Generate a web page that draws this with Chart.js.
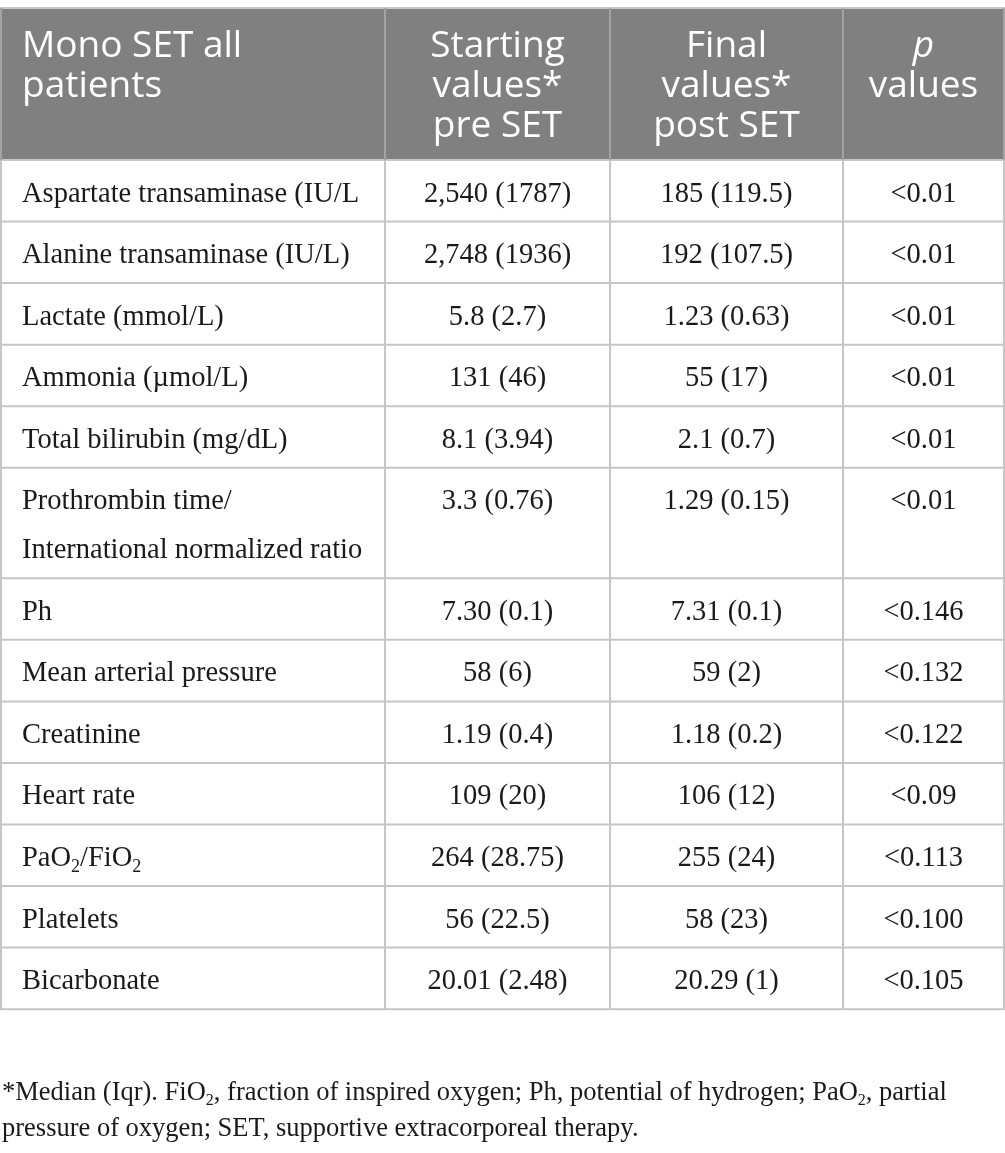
<!DOCTYPE html>
<html>
<head>
<meta charset="utf-8">
<script src="https://cdn.jsdelivr.net/npm/chart.js@4.4.0/dist/chart.umd.min.js"></script>
<style>
    html, body { margin: 0; padding: 0; background: #ffffff; }
    #wrap { width: 1005px; height: 1153px; position: relative; }
</style>
</head>
<body>
<div id="wrap"><canvas id="set-table-chart"></canvas></div>
<script>
// table content ("_x" marks a subscript character)
const headers = [
    ['Mono SET all', 'patients'],
    ['Starting', 'values*', 'pre SET'],
    ['Final', 'values*', 'post SET'],
    ['p', 'values']
];
const italicHeaderLines = ['p'];

const parameters = [
    'Aspartate transaminase (IU/L',
    'Alanine transaminase (IU/L)',
    'Lactate (mmol/L)',
    'Ammonia (\u00b5mol/L)',
    'Total bilirubin (mg/dL)',
    'Prothrombin time/\nInternational normalized ratio',
    'Ph',
    'Mean arterial pressure',
    'Creatinine',
    'Heart rate',
    'PaO_2/FiO_2',
    'Platelets',
    'Bicarbonate'
];
const startingValues = ['2,540 (1787)', '2,748 (1936)', '5.8 (2.7)', '131 (46)', '8.1 (3.94)', '3.3 (0.76)',
    '7.30 (0.1)', '58 (6)', '1.19 (0.4)', '109 (20)', '264 (28.75)', '56 (22.5)', '20.01 (2.48)'];
const finalValues = ['185 (119.5)', '192 (107.5)', '1.23 (0.63)', '55 (17)', '2.1 (0.7)', '1.29 (0.15)',
    '7.31 (0.1)', '59 (2)', '1.18 (0.2)', '106 (12)', '255 (24)', '58 (23)', '20.29 (1)'];
const pValues = ['<0.01', '<0.01', '<0.01', '<0.01', '<0.01', '<0.01',
    '<0.146', '<0.132', '<0.122', '<0.09', '<0.113', '<0.100', '<0.105'];

const footnote = [
    '*Median (Iqr). FiO_2, fraction of inspired oxygen; Ph, potential of hydrogen; PaO_2, partial',
    'pressure of oxygen; SET, supportive extracorporeal therapy.'
];

// geometry, in scale units (the scales span the page)
const colEdges = [0, 385, 610, 843, 1004];
const tableTop = 8;
const headerHeight = 152;
const rowHeight = 61.55;
const lineGap = 49;
const cellPadX = 22;

const headerBg = '#808080';
const gridColor = '#c6c6c6';
const headerGrid = '#a3a3a3';
const headerFontSize = 37;
const bodyFontSize = 28.5;
const noteFontSize = 26.5;

function splitRich(text) {
    const out = [];
    let buf = '';
    for (let i = 0; i < text.length; i++) {
        if (text[i] === '_' && i + 1 < text.length) {
            if (buf) out.push({ t: buf, sub: false });
            out.push({ t: text[i + 1], sub: true });
            buf = '';
            i++;
        } else {
            buf += text[i];
        }
    }
    if (buf) out.push({ t: buf, sub: false });
    return out;
}

function drawRich(ctx, text, px, py, align, family, size, style) {
    const segs = splitRich(text);
    const main = (style ? style + ' ' : '') + size + 'px ' + family;
    const small = (style ? style + ' ' : '') + Math.round(size * 0.62) + 'px ' + family;
    let total = 0;
    segs.forEach(s => {
        ctx.font = s.sub ? small : main;
        s.w = ctx.measureText(s.t).width;
        total += s.w;
    });
    let cx = align === 'center' ? px - total / 2 : px;
    ctx.textAlign = 'left';
    ctx.textBaseline = 'alphabetic';
    segs.forEach(s => {
        ctx.font = s.sub ? small : main;
        ctx.fillText(s.t, cx, s.sub ? py + size * 0.2 : py);
        cx += s.w;
    });
}

const tablePlugin = {
    id: 'tablePlugin',
    afterDraw(chart) {
        const { ctx, scales: { x, y } } = chart;
        const X = v => x.getPixelForValue(v);
        const Y = v => y.getPixelForValue(v);

        // row boundaries from line counts
        const rowTops = [tableTop + headerHeight];
        parameters.forEach(p => {
            const lines = p.split('\n').length;
            rowTops.push(rowTops[rowTops.length - 1] + rowHeight + (lines - 1) * lineGap);
        });
        const tableBottom = rowTops[rowTops.length - 1];

        ctx.save();
        // header band
        ctx.fillStyle = headerBg;
        ctx.fillRect(X(colEdges[0]), Y(tableTop), X(colEdges[4] + 1) - X(colEdges[0]), Y(tableTop + headerHeight) - Y(tableTop));

        // grid
        ctx.lineWidth = 2;
        ctx.strokeStyle = gridColor;
        ctx.beginPath();
        ctx.moveTo(X(0), Y(tableTop));
        ctx.lineTo(X(colEdges[4] + 1), Y(tableTop));
        rowTops.forEach(t => {
            ctx.moveTo(X(0), Y(t));
            ctx.lineTo(X(colEdges[4] + 1), Y(t));
        });
        colEdges.forEach(c => {
            const cx = c === 0 ? 1 : c;
            ctx.moveTo(X(cx), Y(tableTop + headerHeight));
            ctx.lineTo(X(cx), Y(tableBottom));
        });
        ctx.stroke();

        ctx.strokeStyle = headerGrid;
        ctx.beginPath();
        colEdges.forEach(c => {
            const cx = c === 0 ? 1 : c;
            ctx.moveTo(X(cx), Y(tableTop));
            ctx.lineTo(X(cx), Y(tableTop + headerHeight));
        });
        ctx.stroke();

        // header text
        ctx.fillStyle = '#ffffff';
        headers.forEach((lines, ci) => {
            lines.forEach((line, li) => {
                const by = Y(tableTop + 49 + li * 40);
                const style = italicHeaderLines.includes(line) ? 'italic' : '';
                if (ci === 0) {
                    drawRich(ctx, line, X(colEdges[0] + cellPadX), by, 'left', '"Open Sans"', headerFontSize, style);
                } else {
                    drawRich(ctx, line, X((colEdges[ci] + colEdges[ci + 1]) / 2), by, 'center', '"Open Sans"', headerFontSize, style);
                }
            });
        });

        // body text
        ctx.fillStyle = '#1a1a1a';
        const columns = [startingValues, finalValues, pValues];
        parameters.forEach((p, ri) => {
            const base = rowTops[ri] + 41.5;
            p.split('\n').forEach((line, li) => {
                drawRich(ctx, line, X(colEdges[0] + cellPadX), Y(base + li * lineGap), 'left', '"Liberation Serif"', bodyFontSize);
            });
            columns.forEach((col, ci) => {
                const mid = (colEdges[ci + 1] + colEdges[ci + 2]) / 2;
                drawRich(ctx, col[ri], X(mid), Y(base), 'center', '"Liberation Serif"', bodyFontSize);
            });
        });

        // footnote
        footnote.forEach((line, li) => {
            drawRich(ctx, line, X(2), Y(tableBottom + 91 + li * 36), 'left', '"Liberation Serif"', noteFontSize);
        });
        ctx.restore();
    }
};

new Chart(document.getElementById('set-table-chart'), {
    type: 'scatter',
    data: { datasets: [] },
    options: {
        responsive: true,
        maintainAspectRatio: false,
        animation: false,
        layout: { padding: 0 },
        plugins: { legend: { display: false }, tooltip: { enabled: false } },
        scales: {
            x: { type: 'linear', min: 0, max: 1005, display: false },
            y: { type: 'linear', min: 0, max: 1153, reverse: true, display: false }
        }
    },
    plugins: [tablePlugin]
});
</script>
</body>
</html>
